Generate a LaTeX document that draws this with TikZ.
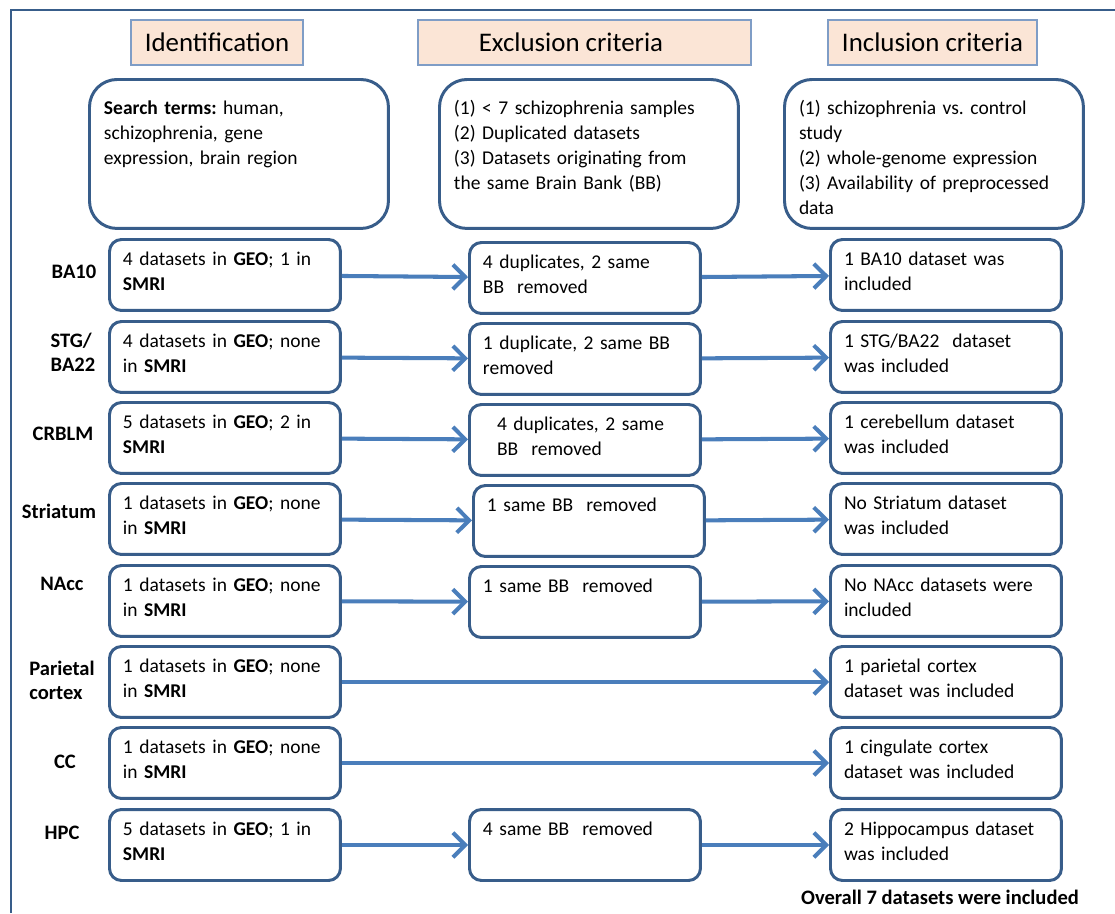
\documentclass[tikz,border=0pt]{standalone}
\usepackage{fontspec}
\setmainfont{Carlito}
\usepackage{xcolor}
\usetikzlibrary{arrows.meta}

\definecolor{boxblue}{HTML}{385D8A}
\definecolor{arrowblue}{HTML}{4A7EBB}
\definecolor{headfill}{HTML}{FBE5D6}
\definecolor{headline}{HTML}{7F9DC6}
\newcommand{\bodyfont}{\fontsize{11.1}{14.2}\selectfont\frenchspacing}

\tikzset{
  header/.style={draw=headline, fill=headfill, line width=0.8pt, minimum height=0.9cm, inner sep=0pt, font=\fontsize{15.3}{18}\selectfont},
  topbox/.style={draw=boxblue, line width=1.7pt, rounded corners=0.55cm, anchor=north west, align=left, text width=5.4cm, inner xsep=0.29cm, inner ysep=0.2cm, text height=0.5cm, text depth=2.08cm, font=\bodyfont},
  rowbox/.style={draw=boxblue, line width=1.7pt, rounded corners=0.24cm, anchor=north west, align=left, text width=4.08cm, inner xsep=0.27cm, inner ysep=0.12cm, text height=0.4cm, text depth=0.78cm, font=\bodyfont},
  region/.style={font=\fontsize{11.7}{13.6}\selectfont\bfseries, align=left, inner sep=0pt},
  flow/.style={draw=arrowblue, line width=2.3pt, -{Straight Barb[length=7pt, width=14pt]}}
}

\begin{document}
\begin{tikzpicture}[x=0.02cm, y=-0.02cm]
            \useasboundingbox (0,0) rectangle (1115,913);
            \draw[boxblue, line width=1.7pt] (11,913) -- (11,10) -- (1115,10);

            % Headers
            \node[header, minimum width=3.44cm] (hid) at (217,42.5) {Identification};
            \node[header, minimum width=6.66cm] (hex) at (584.5,42.5) {\hspace*{-0.54cm}Exclusion criteria};
            \node[header, minimum width=4.18cm] (hin) at (932.5,42.5) {Inclusion criteria};

            % Criteria
            \node[topbox] (search) at (88,78) {\textbf{Search terms:} human,\\schizophrenia, gene\\expression, brain region};
            \node[topbox] (excl) at (438,78) {(1) < 7 schizophrenia samples\\(2) Duplicated datasets\\(3) Datasets originating from\\the same Brain Bank (BB)};
            \node[topbox] (incl) at (783,78) {(1) schizophrenia vs. control\\study\\(2) whole-genome expression\\(3) Availability of preprocessed\\data};

            % Regions
            \node[region] (r1) at (74,272) {BA10};
            \node[region] (r2) at (73,352) {STG/\\BA22};
            \node[region] (r3) at (63,434) {CRBLM};
            \node[region] (r4) at (59,511) {Striatum};
            \node[region] (r5) at (62,584) {NAcc};
            \node[region] (r6) at (62,680) {Parietal\\cortex};
            \node[region] (r7) at (65,762) {CC};
            \node[region] (r8) at (62,833) {HPC};

            % Identification
            \node[rowbox] (id1) at (108,238) {4 datasets in \textbf{GEO}; 1 in\\\textbf{SMRI}};
            \node[rowbox] (id2) at (108,320) {4 datasets in \textbf{GEO}; none\\in \textbf{SMRI}};
            \node[rowbox] (id3) at (108,401) {5 datasets in \textbf{GEO}; 2 in\\\textbf{SMRI}};
            \node[rowbox] (id4) at (108,482) {1 datasets in \textbf{GEO}; none\\in \textbf{SMRI}};
            \node[rowbox] (id5) at (108,564) {1 datasets in \textbf{GEO}; none\\in \textbf{SMRI}};
            \node[rowbox] (id6) at (108,645) {1 datasets in \textbf{GEO}; none\\in \textbf{SMRI}};
            \node[rowbox] (id7) at (108,726) {1 datasets in \textbf{GEO}; none\\in \textbf{SMRI}};
            \node[rowbox] (id8) at (108,808) {5 datasets in \textbf{GEO}; 1 in\\\textbf{SMRI}};

            % Exclusion
            \node[rowbox] (ex1) at (468,241) {4 duplicates, 2 same\\BB~ removed};
            \node[rowbox] (ex2) at (468,322) {1 duplicate, 2 same BB\\removed};
            \node[rowbox] (ex3) at (468,403) {\hspace*{8pt}4 duplicates, 2 same\\\hspace*{8pt}BB~ removed};
            \node[rowbox] (ex4) at (472,484) {1 same BB~ removed};
            \node[rowbox] (ex5) at (468,565) {1 same BB~ removed};
            \node[rowbox] (ex8) at (468,808) {4 same BB~ removed};

            % Inclusion
            \node[rowbox] (in1) at (829,238) {1 BA10 dataset was\\included};
            \node[rowbox] (in2) at (829,320) {1 STG/BA22~ dataset\\was included};
            \node[rowbox] (in3) at (829,401) {1 cerebellum dataset\\was included};
            \node[rowbox] (in4) at (829,482) {No Striatum dataset\\was included};
            \node[rowbox] (in5) at (829,564) {No NAcc datasets were\\included};
            \node[rowbox] (in6) at (829,645) {1 parietal cortex\\dataset was included};
            \node[rowbox] (in7) at (829,726) {1 cingulate cortex\\dataset was included};
            \node[rowbox] (in8) at (829,808) {2 Hippocampus dataset\\was included};

            \node[region] (total) at (940,897) {Overall 7 datasets were included};

            % Edges
            \draw[flow] (id1) -- (ex1);
            \draw[flow] (ex1) -- (in1);
            \draw[flow] (id2) -- (ex2);
            \draw[flow] (ex2) -- (in2);
            \draw[flow] (id3) -- (ex3);
            \draw[flow] (ex3) -- (in3);
            \draw[flow] (id4) -- (ex4);
            \draw[flow] (ex4) -- (in4);
            \draw[flow] (id5) -- (ex5);
            \draw[flow] (ex5) -- (in5);
            \draw[flow] (id6) -- (in6);
            \draw[flow] (id7) -- (in7);
            \draw[flow] (id8) -- (ex8);
            \draw[flow] (ex8) -- (in8);

        \end{tikzpicture}
\end{document}
